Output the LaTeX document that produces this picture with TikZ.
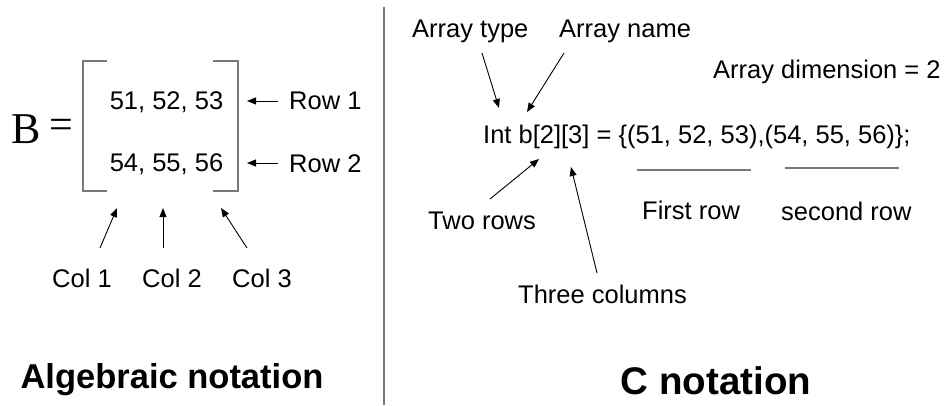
\documentclass[tikz,border=0pt]{standalone}
\usepackage{fontspec}
\setsansfont{Liberation Sans}
\newfontfamily\serifB{Liberation Serif}
\usetikzlibrary{arrows.meta}
\definecolor{rulegray}{RGB}{120,120,120}
\begin{document}
\begin{tikzpicture}[x=1pt,y=-1pt,
  lbl/.style={inner sep=0pt, font=\sffamily\fontsize{25.5}{30}\selectfont},
  title/.style={inner sep=0pt, anchor=base, font=\sffamily\bfseries\fontsize{#1}{#1}\selectfont},
  ptr/.style={-{Triangle[length=9pt,width=7pt]}, line width=0.9pt},
  grayline/.style={draw=rulegray, line width=1.4pt}]
\useasboundingbox (0,0) rectangle (947,405);

% divider between the two halves
\coordinate (divtop) at (384,7);
\coordinate (divbot) at (384,405);
\draw[grayline, line width=1.2pt] (divtop) -- (divbot);

% ---------- algebraic notation ----------
\node[inner sep=0pt, anchor=base west, font=\serifB\fontsize{44}{44}\selectfont] (nameB) at (11,143) {B};
\node[inner sep=0pt, font=\serifB\fontsize{42}{42}\selectfont] (eqsign) at (61.5,129) {=};

% square brackets
\draw[grayline] (107,61) -- (83,61) -- (83,191) -- (107,191);
\draw[grayline] (213,61) -- (238,61) -- (238,191) -- (213,191);

\node[lbl, anchor=base] (mrow1) at (166.5,109) {51, 52, 53};
\node[lbl, anchor=base] (mrow2) at (166.5,171) {54, 55, 56};

\node[lbl, anchor=base west] (lrow1) at (289,109) {Row 1};
\node[lbl, anchor=base west] (lrow2) at (289,172) {Row 2};
\coordinate (r1a) at (278,101); \coordinate (r1b) at (247,101);
\coordinate (r2a) at (278,163); \coordinate (r2b) at (247,163);
\draw[ptr] (r1a) -- (r1b);
\draw[ptr] (r2a) -- (r2b);

\node[lbl, anchor=base] (lcol1) at (82,287) {Col 1};
\node[lbl, anchor=base] (lcol2) at (172,287) {Col 2};
\node[lbl, anchor=base] (lcol3) at (262,287) {Col 3};
\coordinate (c1a) at (100,248); \coordinate (c1b) at (117,208);
\coordinate (c2a) at (163,248); \coordinate (c2b) at (163,208);
\coordinate (c3a) at (247,248); \coordinate (c3b) at (221,208);
\draw[ptr] (c1a) -- (c1b);
\draw[ptr] (c2a) -- (c2b);
\draw[ptr] (c3a) -- (c3b);

\node[title=34.5] (algtitle) at (172,388) {Algebraic notation};

% ---------- C notation ----------
\node[lbl, anchor=base west] (decl) at (483,143) {Int b[2][3] = \{(51, 52, 53),(54, 55, 56)\};};

\node[lbl, anchor=base west] (atype) at (412,37) {Array type};
\node[lbl, anchor=base west] (aname) at (559,37) {Array name};
\node[lbl, anchor=base west] (adim) at (713,78) {Array dimension = 2};
\coordinate (t1) at (482,53); \coordinate (t2) at (499,108);
\coordinate (n1) at (564,53); \coordinate (n2) at (527,112);
\draw[ptr] (t1) -- (t2);
\draw[ptr] (n1) -- (n2);

\node[lbl, anchor=base west] (tworows) at (428,229) {Two rows};
\node[lbl, anchor=base west] (threecols) at (518,303) {Three columns};
\coordinate (w1) at (490,199); \coordinate (w2) at (539,159);
\coordinate (h1) at (597,273); \coordinate (h2) at (571,167);
\draw[ptr] (w1) -- (w2);
\draw[ptr] (h1) -- (h2);

\coordinate (u1a) at (637,170); \coordinate (u1b) at (751,170);
\coordinate (u2a) at (785,168); \coordinate (u2b) at (899,168);
\draw[grayline] (u1a) -- (u1b);
\draw[grayline] (u2a) -- (u2b);
\node[lbl, anchor=base west] (firstrow) at (642,219) {First row};
\node[lbl, anchor=base west] (secondrow) at (781,220) {second row};

\node[title=38.5] (ctitle) at (716,394) {C notation};
\end{tikzpicture}
\end{document}
